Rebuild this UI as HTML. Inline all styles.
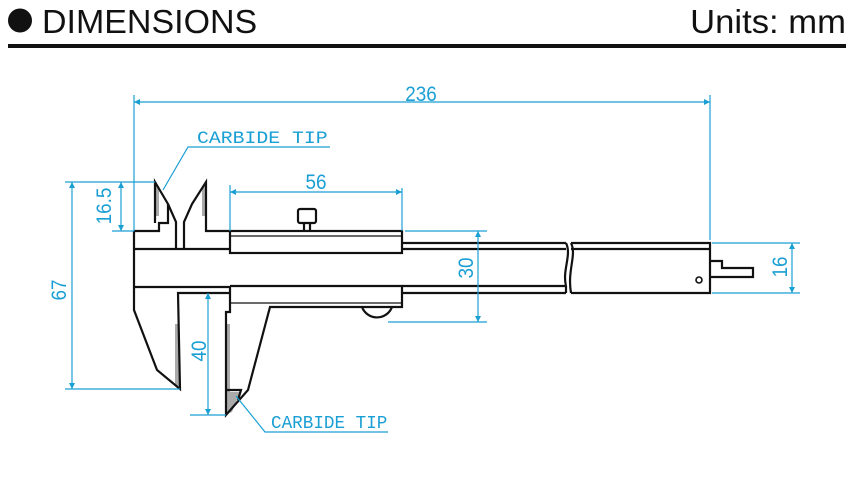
<!DOCTYPE html>
<html><head><meta charset="utf-8"><style>
html,body{margin:0;padding:0;background:#fff;}
svg{display:block;}
</style></head><body>
<svg width="854" height="478" viewBox="0 0 854 478" xmlns="http://www.w3.org/2000/svg">
<defs>
<marker id="a" viewBox="0 0 10 10" refX="10" refY="5" markerWidth="9" markerHeight="6" orient="auto-start-reverse" markerUnits="userSpaceOnUse"><path d="M0,0L10,5L0,10z" fill="#1a9fd4"/></marker>
</defs>
<circle cx="20" cy="20.5" r="12" fill="#111"/>
<text x="42" y="33" font-family="Liberation Sans, sans-serif" font-size="33" fill="#111" transform="translate(42 0) scale(1.03 1) translate(-42 0)">DIMENSIONS</text>
<text x="846" y="33" text-anchor="end" font-family="Liberation Sans, sans-serif" font-size="33" fill="#111" transform="translate(846 0) scale(1.05 1) translate(-846 0)">Units: mm</text>
<rect x="8" y="44" width="838" height="4" fill="#111"/>

<g fill="#aaa">
<rect x="155" y="186" width="4" height="30"/>
<rect x="202" y="186" width="4" height="30"/>
<rect x="175" y="324" width="4" height="62"/>
<rect x="226" y="324" width="4" height="70"/>
<polygon points="227,392 240,392 232,412 227,414"/>
</g>

<g fill="none" stroke="#111" stroke-width="2.2" stroke-linejoin="miter">
<path d="M134,231 L134,310 L157,370 L180,389 L178,293 L230,293"/>
<path d="M134,231 L159,231 L159,223 L168,223 L168,204 L155,182 L155,223"/>
<path d="M168,204 L176,222 L176,249"/>
<path d="M134,249 L230,249"/>
<path d="M134,287 L230,287"/>
<path d="M184,249 L184,222 L192,204 L206,182 L206,231 L230,231"/>
<rect x="230" y="231" width="172" height="22"/>
<line x1="230" y1="236" x2="402" y2="236" stroke-width="1.2"/>
<path d="M402,243 L566,243 M402,249 L566,249"/>
<path d="M402,286 L566,286 M402,293 L566,293"/>
<path d="M566,243 C572,255 562,270 566,286 M571,243 C577,255 567,270 571,293"/>
<path d="M571,243 L710,243 L710,293 L571,293 M571,249 L710,249 M566,293 L566,286"/>
<path d="M230,286 L402,286 L402,307 L270,307 L248,390 L226,415 L226,312 L230,312 L230,286"/>
<line x1="230" y1="303" x2="402" y2="303" stroke-width="1.2"/>
<path d="M226,390 L241,390 L238,400"/>
<rect x="298" y="209" width="18" height="14" rx="2"/>
<path d="M304,223 L304,231 M310,223 L310,231"/>
<path d="M362,307 A16,16 0 0 0 392,307"/>
<path d="M710,261 L722,261 L722,268 L753,268 L753,277 L710,277"/>
<circle cx="699" cy="280" r="3" stroke-width="1.6"/>
</g>

<g stroke="#1a9fd4" stroke-width="1.2" fill="none">
<path d="M134,95 L134,231 M710,95 L710,240"/>
<line x1="134" y1="102" x2="710" y2="102" marker-start="url(#a)" marker-end="url(#a)"/>
<path d="M230,185 L230,231 M402,188 L402,231"/>
<line x1="230" y1="192" x2="402" y2="192" marker-start="url(#a)" marker-end="url(#a)"/>
<path d="M112,182 L155,182 M112,231 L134,231"/>
<line x1="121" y1="182" x2="121" y2="231" marker-start="url(#a)" marker-end="url(#a)"/>
<path d="M65,182 L112,182 M65,389 L180,389"/>
<line x1="72" y1="182" x2="72" y2="389" marker-start="url(#a)" marker-end="url(#a)"/>
<path d="M190,415 L226,415"/>
<line x1="208" y1="293" x2="208" y2="415" marker-start="url(#a)" marker-end="url(#a)"/>
<path d="M405,231 L487,231 M388,322 L487,322"/>
<line x1="478" y1="231" x2="478" y2="322" marker-start="url(#a)" marker-end="url(#a)"/>
<path d="M712,243 L800,243 M712,293 L800,293"/>
<line x1="792" y1="243" x2="792" y2="293" marker-start="url(#a)" marker-end="url(#a)"/>
<path d="M330,147 L188,147 L163,190"/>
<path d="M388,432 L265,432 L236,396"/>
</g>
<g fill="#1a9fd4" font-family="Liberation Sans, sans-serif" font-size="21">
<text x="421" y="101" text-anchor="middle" transform="translate(421 0) scale(0.9 1) translate(-421 0)">236</text>
<text x="316" y="189" text-anchor="middle" transform="translate(316 0) scale(0.9 1) translate(-316 0)">56</text>
<text transform="translate(111 206) rotate(-90) scale(0.9 1)" text-anchor="middle">16.5</text>
<text transform="translate(66 290) rotate(-90) scale(0.9 1)" text-anchor="middle">67</text>
<text transform="translate(206 351) rotate(-90) scale(0.9 1)" text-anchor="middle">40</text>
<text transform="translate(473 268) rotate(-90) scale(0.9 1)" text-anchor="middle">30</text>
<text transform="translate(787 267) rotate(-90) scale(0.9 1)" text-anchor="middle">16</text>
<text x="197" y="143" font-family="Liberation Mono, monospace" font-size="18" transform="translate(197 0) scale(1.1 1) translate(-197 0)">CARBIDE TIP</text>
<text x="271" y="428" font-family="Liberation Mono, monospace" font-size="18" transform="translate(271 0) scale(0.98 1) translate(-271 0)">CARBIDE TIP</text>
</g>
</svg>
</body></html>
